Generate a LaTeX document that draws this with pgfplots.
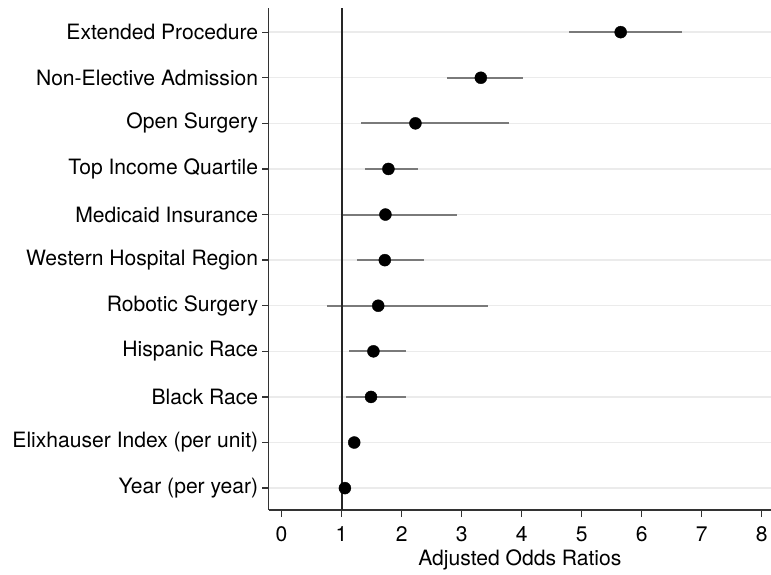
\documentclass[border=0pt]{standalone}
\usepackage{fontspec}
\setmainfont{TeX Gyre Heros}
\usepackage{pgfplots}
\pgfplotsset{compat=1.18}
\usepackage{pgfplotstable}
\pgfplotstableread{
y x lo hi
11 5.65 4.79 6.67
10 3.32 2.75 4.03
9 2.23 1.32 3.79
8 1.78 1.39 2.27
7 1.73 1.01 2.92
6 1.72 1.25 2.37
5 1.61 0.76 3.44
4 1.53 1.12 2.08
3 1.49 1.07 2.08
2 1.21 1.17 1.25
1 1.055 1.04 1.07
}\datatable
\begin{document}
\begin{tikzpicture}[x=1pt,y=1pt]
\useasboundingbox (0,0) rectangle (771,574);
\begin{axis}[
  at={(268.7pt,64pt)}, anchor=south west,
  scale only axis, width=502.3pt, height=502pt,
  xmin=-0.215, xmax=8.155, ymin=0.52, ymax=11.53,
  axis x line=bottom, axis y line=left,
  axis line style={-, draw=black!80, line width=1.4pt},
  xtick={0,...,8}, ytick={1,...,11},
  yticklabels={Year (per year),Elixhauser Index (per unit),Black Race,Hispanic Race,Robotic Surgery,Western Hospital Region,Medicaid Insurance,Top Income Quartile,Open Surgery,Non-Elective Admission,Extended Procedure},
  tick align=outside, major tick length=6.5pt,
  tick style={draw=black!80, line width=1.3pt},
  ymajorgrids, major grid style={draw=black!8, line width=1.4pt},
  /pgf/number format/assume math mode=true,
  ticklabel style={font=\fontsize{21.1}{25}\selectfont},
  xticklabel style={yshift=-6.5pt},
  yticklabel style={xshift=-0.5pt},
  xlabel={Adjusted Odds Ratios},
  label style={font=\fontsize{21.1}{25}\selectfont},
  xlabel style={yshift=-1pt},
  clip=false,
]
\addplot[draw=none, mark=none, forget plot,
  error bars/.cd, x dir=both, x explicit, error mark=none,
  error bar style={draw=black!52, line width=2pt}]
  table[x=x, y=y, x error plus expr=\thisrow{hi}-\thisrow{x}, x error minus expr=\thisrow{x}-\thisrow{lo}] {\datatable};
\addplot[draw=black!85, line width=2pt, mark=none] coordinates {(1,0.52) (1,11.53)};
\addplot[only marks, mark=*, mark size=6pt, black, fill=black] table[x=x, y=y] {\datatable};
\end{axis}
\end{tikzpicture}
\end{document}
